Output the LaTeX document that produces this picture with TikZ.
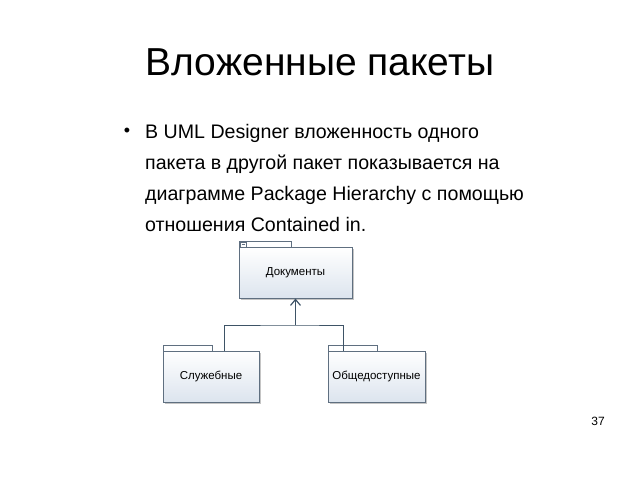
\documentclass[tikz,border=0pt]{standalone}
\usepackage{fontspec}
\setmainfont{Liberation Sans}
\usetikzlibrary{positioning,shadows,arrows.meta}
\definecolor{pkgline}{HTML}{5F6F80}
\definecolor{pkgfill}{HTML}{DCE4EE}
\definecolor{wireclr}{HTML}{3E5366}
\tikzset{
  pkg/.style = {rectangle,draw=pkgline,semithick,top color=white,bottom color=pkgfill,
                drop shadow={shadow xshift=1.5pt,shadow yshift=-1.5pt,opacity=.45},
                minimum height=51pt,font=\fontsize{11.5}{13}\selectfont,outer sep=0pt},
  pkgtab/.style = {rectangle,draw=pkgline,semithick,fill=white,minimum width=49pt,
                   minimum height=6pt,anchor=south west,outer sep=0pt,inner sep=0pt},
  wire/.style = {draw=wireclr,thick}
}
\begin{document}
\begin{tikzpicture}[x=1pt,y=1pt]
\useasboundingbox[fill=white] (0,0) rectangle (640,-480);
% title and text
\node (title) at (320,-62) {\fontsize{39}{44}\selectfont Вложенные пакеты};
\node (dot) at (127,-132) {\fontsize{18}{30}\selectfont •};
\node[anchor=north west,inner sep=0pt,align=left,font=\fontsize{19.6}{31}\selectfont] (body) at (145,-124)
  {В UML Designer вложенность одного\\
   пакета в другой пакет показывается на\\
   диаграмме Package Hierarchy с помощью\\
   отношения Contained in.};
\node (pnum) at (598,-421) {\fontsize{12}{14}\selectfont 37};
% packages
\node[pkg,minimum width=113pt] (docs) at (295.5,-273) {Документы};
\node[pkg,minimum width=96pt] (sluzh) at (211,-376.5) {Служебные};
\node[pkg,minimum width=97pt] (obsch) at (376.5,-376.5) {Общедоступные};
\node[pkgtab,minimum width=52pt] (docstab) at (docs.north west) {};
\node[pkgtab] (sluzhtab) at (sluzh.north west) {};
\node[pkgtab] (obschtab) at (obsch.north west) {};
\node[rectangle,draw=pkgline,fill=white,minimum width=6pt,minimum height=5pt,inner sep=0pt,
      anchor=north west] (minus) at ([xshift=1pt,yshift=-.5pt]docstab.north west) {};
\draw[pkgline,thick] ([xshift=1.5pt]minus.west) -- ([xshift=-1.5pt]minus.east);
% contained in
\coordinate (hub) at (docs.south |- 0,-325);
\draw[wire] ([xshift=13pt]sluzh.north) |- (hub) -| ([xshift=-33.5pt]obsch.north);
\draw[wire,-{Straight Barb[length=6pt,width=10pt,line width=1.2pt]}] (hub) -- (docs.south);
\end{tikzpicture}
\end{document}
